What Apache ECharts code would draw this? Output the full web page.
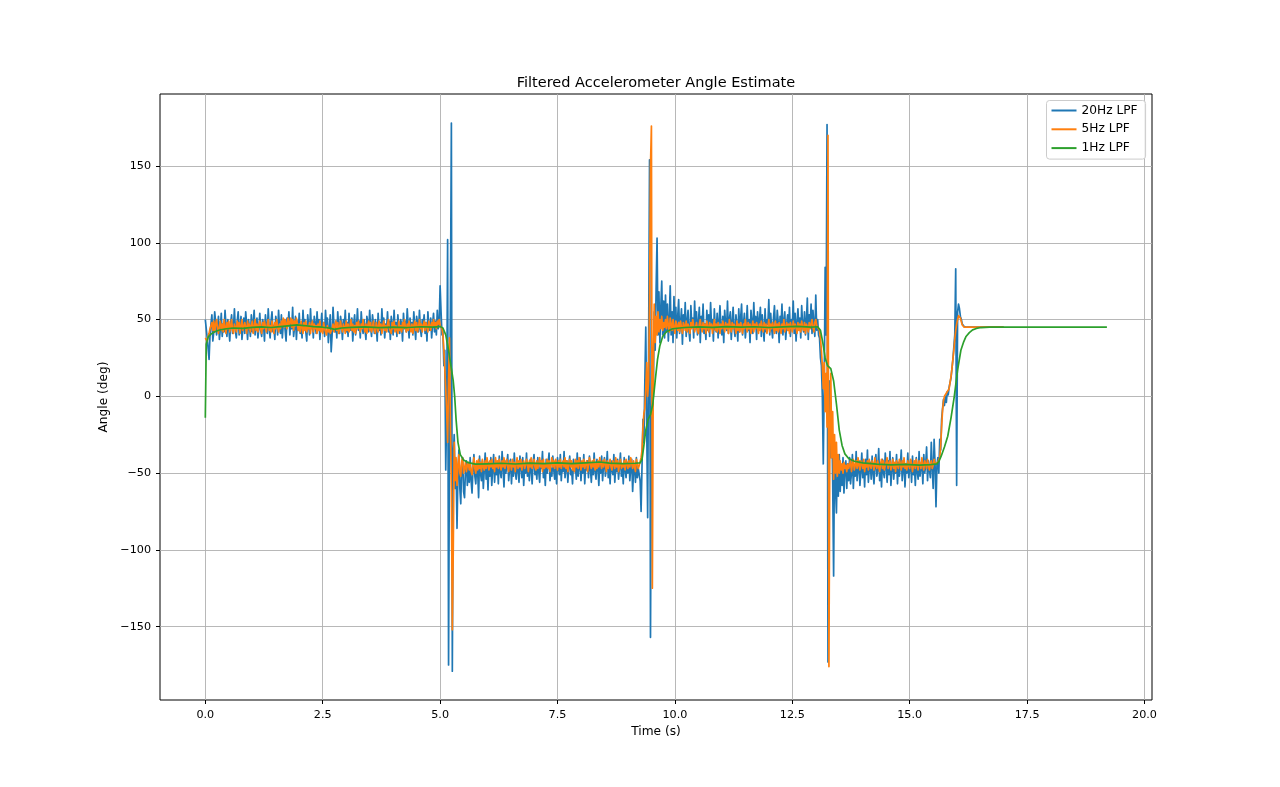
<!DOCTYPE html>
<html>
<head>
<meta charset="utf-8">
<title>Filtered Accelerometer Angle Estimate</title>
<script src="https://cdn.jsdelivr.net/npm/echarts@6.0.0/dist/echarts.min.js"></script>
<style>
    html, body { margin: 0; padding: 0; background: #fff; }
    #chart { width: 1280px; height: 787px; }
</style>
</head>
<body>
<div id="chart"></div>
<script>
// sample spacing (s) of the 20Hz / 5Hz filtered traces
const SAMPLE_STEP = 0.02;

const seriesNames = ['20Hz LPF', '5Hz LPF', '1Hz LPF'];
const xTicks = [0, 2.5, 5, 7.5, 10, 12.5, 15, 17.5, 20];
const yTicks = [-150, -100, -50, 0, 50, 100, 150];

// 20Hz LPF angle (deg), one value per SAMPLE_STEP starting at t = 0
const angle20Hz = [
    // 0 .. 4.98 s
    50, 44, 38, 31, 24, 40, 47, 53, 36, 42,
    55, 48, 40, 45, 52, 37, 44, 54, 39, 47,
    42, 56, 46, 39, 50, 44, 36, 48, 53, 41,
    45, 57, 43, 38, 49, 55, 40, 46, 52, 37,
    44, 51, 41, 55, 47, 37, 50, 45, 39, 53,
    42, 48, 56, 40, 46, 51, 38, 44, 54, 43,
    39, 50, 47, 36, 53, 45, 41, 57, 44, 38,
    49, 55, 42, 46, 37, 52, 48, 40, 56, 45,
    41, 53, 38, 47, 50, 43, 36, 51, 46, 55,
    40, 48, 44, 58, 39, 45, 52, 37, 49, 43,
    54, 41, 47, 38, 56, 45, 50, 42, 36, 53,
    46, 40, 57, 44, 49, 38, 52, 47, 41, 55,
    43, 50, 37, 46, 54, 42, 48, 39, 56, 45,
    51, 35, 44, 53, 29, 40, 58, 46, 42, 49,
    38, 55, 45, 41, 52, 47, 37, 50, 44, 56,
    42, 48, 39, 54, 46, 43, 51, 36, 47, 53,
    40, 45, 57, 43, 49, 38, 55, 46, 41, 50,
    44, 37, 52, 48, 42, 56, 45, 39, 53, 47,
    41, 50, 46, 36, 54, 43, 48, 40, 57, 45,
    51, 38, 47, 44, 55, 42, 49, 37, 52, 46,
    40, 56, 43, 48, 39, 53, 45, 41, 50, 47,
    36, 54, 44, 49, 42, 57, 46, 38, 51, 43,
    48, 40, 55, 45, 37, 52, 47, 42, 56, 44,
    39, 50, 46, 53, 41, 48, 36, 55, 45, 43,
    51, 38, 47, 54, 42, 49, 40, 56, 44, 47,
    // 5.0 .. 5.62 s
    72, 55, 40, 42, 20, 30, -48, -10, 102, -175,
    -20, 60, 178, -179, -40, -25, -60, -45, -86, -50,
    -35, -60, -70, -45, -40, -62, -66, -48, -42, -58,
    -45, -56,
    // 5.64 .. 9.24 s
    -40, -55, -63, -47, -38, -52, -57, -44, -49, -66,
    -39, -50, -55, -42, -60, -48, -37, -54, -45, -61,
    -43, -52, -40, -58, -47, -38, -56, -44, -51, -43,
    -57, -39, -49, -53, -36, -47, -59, -42, -50, -45,
    -38, -55, -47, -41, -57, -44, -52, -37, -49, -54,
    -42, -48, -56, -39, -46, -53, -40, -58, -45, -50,
    -37, -52, -44, -55, -41, -48, -57, -43, -38, -51,
    -46, -54, -40, -49, -56, -42, -47, -36, -53, -45,
    -58, -41, -50, -44, -37, -55, -47, -52, -39, -48,
    -54, -43, -57, -40, -46, -51, -38, -55, -44, -49,
    -36, -53, -47, -42, -56, -45, -39, -51, -48, -57,
    -41, -49, -44, -54, -37, -52, -46, -40, -55, -43,
    -50, -38, -57, -45, -48, -42, -53, -39, -47, -56,
    -44, -51, -37, -49, -54, -41, -46, -58, -43, -50,
    -39, -55, -45, -40, -52, -47, -36, -53, -44, -57,
    -42, -48, -51, -38, -56, -45, -49, -41, -54, -46,
    -37, -52, -44, -57, -40, -48, -53, -43, -50, -39,
    -55, -46, -41, -62, -48, -44, -56, -40, -53, -47,
    -46,
    // 9.26 .. 9.82 s
    -55, -75, -45, -15, -30, 10, 45, -20, -79, 30,
    154, -157, -20, 20, 0, 55, 30, 70, 103, 40,
    68, 35, 58, 75, 40, 62, 38, 66, 42,
    // 9.84 .. 13.02 s
    60, 36, 50, 72, 40, 55, 35, 65, 44, 58,
    38, 52, 63, 41, 47, 57, 34, 53, 45, 61,
    39, 49, 56, 42, 36, 59, 46, 51, 38, 62,
    44, 55, 40, 48, 58, 35, 52, 45, 60, 41,
    47, 37, 56, 43, 53, 39, 61, 46, 50, 36,
    57, 44, 42, 54, 38, 49, 59, 45, 40, 52,
    35, 56, 47, 43, 62, 41, 50, 55, 37, 48,
    58, 44, 39, 53, 46, 36, 57, 42, 51, 60,
    40, 47, 54, 38, 45, 59, 43, 50, 35, 56,
    48, 41, 61, 46, 52, 37, 55, 44, 49, 58,
    39, 53, 45, 36, 57, 42, 50, 47, 63, 40,
    54, 44, 38, 51, 59, 45, 41, 56, 48, 35,
    52, 46, 60, 40, 49, 55, 37, 47, 53, 43,
    58, 39, 50, 45, 62, 41, 54, 36, 48, 57,
    44, 51, 38, 59, 46, 42, 55, 40, 49, 64,
    37, 53, 45, 60, 41, 56, 47, 39, 66, 43,
    // 13.04 .. 13.70 s
    50, 40, 38, 25, 20, 0, -44, 10, 84, 40,
    177, -173, -20, 10, -40, -10, -55, -117, -30, -60,
    -76, -40, -65, -38, -62, -45, -58, -40, -63, -48,
    -42, -60, -44, -55,
    // 13.72 .. 15.54 s
    -40, -57, -50, -38, -60, -45, -52, -36, -55, -47,
    -42, -58, -49, -37, -53, -44, -59, -41, -51, -35,
    -56, -46, -43, -54, -39, -50, -57, -45, -38, -52,
    -48, -34, -55, -44, -59, -41, -49, -53, -37, -46,
    -56, -42, -51, -36, -58, -47, -40, -54, -45, -50,
    -38, -57, -43, -52, -46, -35, -55, -48, -41, -59,
    -44, -50, -37, -53, -47, -42, -56, -39, -51, -45,
    -58, -40, -49, -54, -36, -52, -46, -43, -57, -38,
    -50, -45, -33, -55, -42, -48, -53, -30, -47, -60,
    -28, -44,
    // 15.56 .. 16.22 s
    -72, -45, -40, -50, -28, -35, -15, -8, -2, -6,
    0, -4, 3, 1, 6, 9, 12, 18, 24, 32,
    40, 83, -58, 55, 60, 57, 52, 50, 47, 46,
    45.5, 45, 45, 45,
    // 16.24 .. 17.0 s
    45, 45, 45, 45, 45, 45, 45, 45, 45, 45,
    45, 45, 45, 45, 45, 45, 45, 45, 45, 45,
    45, 45, 45, 45, 45, 45, 45, 45, 45, 45,
    45, 45, 45, 45, 45, 45, 45, 45, 45
];

// 5Hz LPF angle (deg), same sampling as angle20Hz
const angle5Hz = [
    // 0 .. 4.98 s
    38, 37, 36, 39, 41, 44, 46, 48, 43, 49,
    42, 47, 50, 44, 41, 46, 49, 43, 47, 42,
    50, 45, 41, 48, 44, 49, 42, 46, 50, 43,
    41, 47, 45, 42, 49, 44, 48, 41, 46, 50,
    43, 42, 48, 45, 41, 49, 44, 47, 42, 46,
    49, 41, 45, 50, 43, 47, 42, 46, 49, 44,
    41, 48, 44, 49, 45, 42, 47, 50, 43, 46,
    42, 49, 45, 41, 48, 44, 50, 45, 42, 47,
    44, 49, 46, 51, 45, 50, 47, 44, 51, 46,
    48, 51, 45, 50, 43, 49, 46, 51, 47, 43,
    47, 42, 49, 45, 41, 48, 43, 49, 42, 46,
    44, 48, 41, 46, 49, 42, 47, 44, 46, 41,
    47, 43, 49, 42, 45, 41, 48, 44, 42, 40,
    46, 42, 44, 41, 40, 44, 47, 42, 46, 49,
    43, 48, 41, 45, 49, 44, 42, 47, 45, 41,
    49, 43, 47, 42, 45, 50, 43, 47, 42, 46,
    41, 48, 44, 49, 45, 42, 47, 44, 50, 45,
    42, 47, 41, 46, 49, 43, 48, 42, 45, 49,
    43, 41, 48, 45, 42, 49, 44, 47, 41, 46,
    49, 43, 46, 42, 47, 50, 44, 45, 41, 48,
    44, 49, 42, 46, 47, 41, 49, 43, 46, 42,
    48, 44, 50, 45, 42, 47, 43, 49, 45, 42,
    47, 41, 46, 49, 43, 48, 42, 45, 50, 44,
    47, 42, 46, 49, 43, 48, 45, 42, 49, 46,
    43, 48, 45, 50, 46, 48, 44, 49, 47, 50,
    // 5.0 .. 5.62 s
    46, 45, 44, 40, 30, 18, 5, -10, -30, 10,
    38, -20, -60, -152, -100, -30, -55, -40, -58, -45,
    -38, -50, -52, -42, -40, -50, -47, -43, -49, -45,
    -43, -48,
    // 5.64 .. 9.24 s
    -44, -49, -51, -45, -40, -47, -50, -42, -48, -41,
    -47, -43, -49, -41, -46, -48, -42, -47, -40, -45,
    -48, -42, -46, -41, -47, -44, -49, -40, -46, -42,
    -47, -41, -45, -48, -42, -46, -40, -47, -44, -41,
    -46, -49, -42, -44, -48, -41, -46, -43, -49, -44,
    -40, -47, -42, -46, -41, -48, -44, -42, -47, -45,
    -41, -44, -49, -42, -46, -40, -47, -44, -41, -46,
    -48, -42, -47, -44, -40, -46, -42, -49, -41, -47,
    -44, -46, -41, -47, -42, -49, -44, -40, -46, -42,
    -47, -41, -44, -48, -42, -46, -41, -47, -44, -42,
    -46, -40, -47, -42, -49, -44, -41, -46, -42, -48,
    -44, -49, -41, -46, -42, -47, -40, -44, -48, -42,
    -46, -41, -47, -44, -42, -49, -45, -40, -44, -47,
    -42, -46, -41, -48, -44, -47, -42, -46, -40, -44,
    -47, -42, -46, -41, -44, -49, -42, -47, -44, -41,
    -46, -48, -42, -44, -47, -40, -46, -42, -49, -44,
    -41, -47, -44, -46, -42, -48, -41, -44, -47, -42,
    -46, -40, -44, -47, -42, -46, -49, -41, -44, -47,
    -45,
    // 9.26 .. 9.82 s
    -44, -40, -35, -20, -11, -8, 5, 22, 0, 10,
    60, 150, 176, -125, 20, 60, 35, 52, 40, 55,
    42, 50, 44, 52, 43, 48, 45, 50, 44,
    // 9.84 .. 13.02 s
    52, 46, 42, 51, 47, 43, 50, 45, 41, 49,
    46, 43, 48, 42, 49, 45, 41, 48, 46, 43,
    49, 42, 47, 45, 41, 48, 44, 50, 46, 42,
    45, 48, 43, 41, 47, 50, 45, 42, 48, 44,
    47, 41, 49, 45, 42, 48, 44, 47, 41, 46,
    50, 43, 47, 42, 48, 45, 41, 47, 44, 49,
    45, 42, 48, 44, 47, 41, 50, 45, 42, 48,
    44, 47, 45, 41, 49, 43, 47, 42, 48, 45,
    41, 47, 44, 50, 45, 42, 48, 44, 47, 41,
    45, 49, 42, 47, 44, 48, 45, 41, 47, 43,
    49, 45, 42, 48, 44, 47, 41, 45, 50, 42,
    47, 44, 48, 45, 41, 49, 43, 47, 42, 48,
    45, 41, 47, 44, 50, 42, 45, 48, 43, 47,
    41, 48, 45, 42, 49, 44, 47, 45, 41, 48,
    43, 47, 42, 49, 45, 43, 48, 41, 47, 45,
    42, 48, 44, 47, 50, 45, 42, 48, 50, 46,
    // 13.04 .. 13.70 s
    46, 45, 43, 38, 30, 20, 5, 22, -10, 15,
    -20, 170, -176, -30, 15, -40, -10, -54, -25, -50,
    -30, -52, -38, -50, -42, -48, -44, -50, -43, -47,
    -45, -49, -44, -47,
    // 13.72 .. 15.54 s
    -46, -42, -49, -44, -41, -48, -45, -42, -47, -40,
    -45, -48, -42, -44, -47, -41, -49, -44, -46, -42,
    -48, -41, -45, -47, -42, -44, -48, -40, -45, -47,
    -42, -46, -49, -44, -41, -47, -42, -48, -45, -43,
    -40, -47, -44, -42, -48, -45, -41, -47, -43, -49,
    -42, -45, -47, -41, -44, -48, -42, -46, -40, -47,
    -44, -48, -42, -45, -47, -41, -44, -49, -45, -42,
    -47, -41, -45, -48, -42, -44, -47, -40, -45, -48,
    -42, -44, -47, -41, -45, -48, -44, -42, -47, -45,
    -41, -44,
    // 15.56 .. 16.22 s
    -45, -44, -43, -42, -40, -32, -20, -9, -3, 0,
    1, 2, 2, 3, 5, 9, 13, 18, 24, 30,
    37, 43, 47, 50, 52.5, 53, 51, 48.5, 46.5, 45.5,
    45, 44.8, 45, 45,
    // 16.24 .. 17.0 s
    45, 45, 45, 45, 45, 45, 45, 45, 45, 45,
    45, 45, 45, 45, 45, 45, 45, 45, 45, 45,
    45, 45, 45, 45, 45, 45, 45, 45, 45, 45,
    45, 45, 45, 45, 45, 45, 45, 45, 45
];

// 1Hz LPF: smooth trace, read at irregular times
const time1Hz = [
    0, 0.02, 0.06, 0.12, 0.2, 0.3, 0.45, 0.6, 0.8, 1.0,
    1.2, 1.4, 1.6, 1.8, 1.95, 2.1, 2.3, 2.5, 2.65, 2.75,
    2.9, 3.1, 3.4, 3.7, 4.0, 4.3, 4.6, 4.85, 5.0, 5.06,
    5.12, 5.18, 5.24, 5.28, 5.31, 5.34, 5.38, 5.43, 5.5, 5.6,
    5.75, 6.0, 6.3, 6.6, 6.9, 7.2, 7.5, 7.8, 8.1, 8.4,
    8.6, 8.9, 9.15, 9.26, 9.3, 9.34, 9.38, 9.43, 9.48, 9.53,
    9.58, 9.63, 9.68, 9.74, 9.82, 9.95, 10.2, 10.5, 10.8, 11.1,
    11.4, 11.7, 12.0, 12.3, 12.6, 12.9, 13.04, 13.1, 13.15, 13.2,
    13.25, 13.32, 13.38, 13.44, 13.5, 13.56, 13.62, 13.7, 13.82, 14.0,
    14.3, 14.6, 14.9, 15.2, 15.45, 15.58, 15.62, 15.67, 15.74, 15.81,
    15.88, 15.95, 16.02, 16.09, 16.15, 16.2, 16.27, 16.34, 16.42, 16.52,
    16.7, 17.5, 18.5, 19.2
];
const angle1Hz = [
    -14, 34, 38.5, 40.5, 42, 43.2, 44, 44.5, 44.3, 44.9,
    45.2, 44.8, 45.4, 46, 46.5, 46.1, 45.4, 45, 44.4, 43.6,
    44.5, 44.9, 45.2, 44.7, 45.1, 44.8, 45.3, 45, 45.4, 44.5,
    40, 30, 18, 10, 0, -15, -30, -38, -41.5, -43.2,
    -44.2, -44, -43.6, -44.1, -43.5, -43.9, -43.3, -43.8, -43.4, -42.8,
    -43.5, -43.9, -43.6, -43.3, -41, -32, -22, -15, -12, -5,
    10, 24, 33, 39, 42, 44, 44.8, 45.2, 44.9, 45.4,
    45, 45.3, 44.8, 45.2, 45.5, 45.1, 45.3, 43, 35, 25,
    20, 18, 10, -5, -22, -32, -37.5, -40.5, -42.3, -43.4,
    -44.2, -44.6, -44.3, -44.8, -44.5, -44, -42.5, -39, -33, -26,
    -14, 0, 17, 30, 35.5, 39, 41.5, 43.3, 44.2, 44.8,
    45, 45, 45, 45
];

const FONT = 'DejaVu Sans';
const colors = ['#1f77b4', '#ff7f0e', '#2ca02c'];

// pair each sampled value with its time
function sampledPoints(values) {
    return values.map((v, i) => [Math.round(i * SAMPLE_STEP * 100) / 100, v]);
}

function minusSign(v) {
    return v < 0 ? '\u2212' + (-v) : String(v);
}

function lineSeries(name, color, data) {
    return {
        name: name,
        type: 'line',
        data: data,
        showSymbol: false,
        symbol: 'none',
        color: color,
        lineStyle: { width: 1.7, color: color, join: 'round' },
        emphasis: { disabled: true },
        silent: true
    };
}

const chart = echarts.init(document.getElementById('chart'));

const option = {
    animation: false,
    textStyle: { fontFamily: FONT },
    graphic: [{
        type: 'text',
        x: 656,
        y: 83,
        style: {
            text: 'Filtered Accelerometer Angle Estimate',
            font: '14.5px "DejaVu Sans"',
            fontSize: 14.5,
            fontFamily: FONT,
            fill: '#000',
            align: 'center',
            verticalAlign: 'middle',
            textAlign: 'center',
            textVerticalAlign: 'middle'
        }
    }],
    legend: {
        data: seriesNames,
        orient: 'vertical',
        left: 1046.5,
        top: 100.5,
        padding: [3, 8, 4, 5],
        itemWidth: 25,
        itemHeight: 2,
        itemGap: 4.8,
        icon: 'rect',
        selectedMode: false,
        backgroundColor: 'rgba(255,255,255,0.8)',
        borderColor: '#cccccc',
        borderWidth: 1,
        borderRadius: 3,
        textStyle: { fontSize: 12.2, lineHeight: 14, color: '#000', fontFamily: FONT }
    },
    grid: {
        left: 160,
        right: 128,
        top: 94,
        bottom: 87,
        show: true,
        borderColor: '#000',
        borderWidth: 1
    },
    xAxis: {
        type: 'value',
        min: -0.965,
        max: 20.16,
        name: 'Time (s)',
        nameLocation: 'middle',
        nameGap: 26,
        nameTextStyle: { fontSize: 12.2, color: '#000', fontFamily: FONT },
        axisLine: { show: false, onZero: false },
        axisTick: { show: true, length: 4, customValues: xTicks, lineStyle: { color: '#000', width: 1 } },
        axisLabel: {
            customValues: xTicks,
            formatter: v => v.toFixed(1),
            fontSize: 11.2,
            color: '#000',
            margin: 10
        },
        splitLine: { show: true, lineStyle: { color: '#b0b0b0', width: 0.9 } }
    },
    yAxis: {
        type: 'value',
        min: -197.8,
        max: 196.9,
        name: 'Angle (deg)',
        nameLocation: 'middle',
        nameGap: 44,
        nameTextStyle: { fontSize: 12.2, color: '#000', fontFamily: FONT },
        axisLine: { show: false, onZero: false },
        axisTick: { show: true, length: 4, customValues: yTicks, lineStyle: { color: '#000', width: 1 } },
        axisLabel: {
            customValues: yTicks,
            formatter: minusSign,
            fontSize: 11.2,
            color: '#000',
            margin: 9
        },
        splitLine: { show: true, lineStyle: { color: '#b0b0b0', width: 0.9 } }
    },
    series: [
        lineSeries(seriesNames[0], colors[0], sampledPoints(angle20Hz)),
        lineSeries(seriesNames[1], colors[1], sampledPoints(angle5Hz)),
        lineSeries(seriesNames[2], colors[2], time1Hz.map((t, i) => [t, angle1Hz[i]]))
    ]
};

chart.setOption(option);
</script>
</body>
</html>
